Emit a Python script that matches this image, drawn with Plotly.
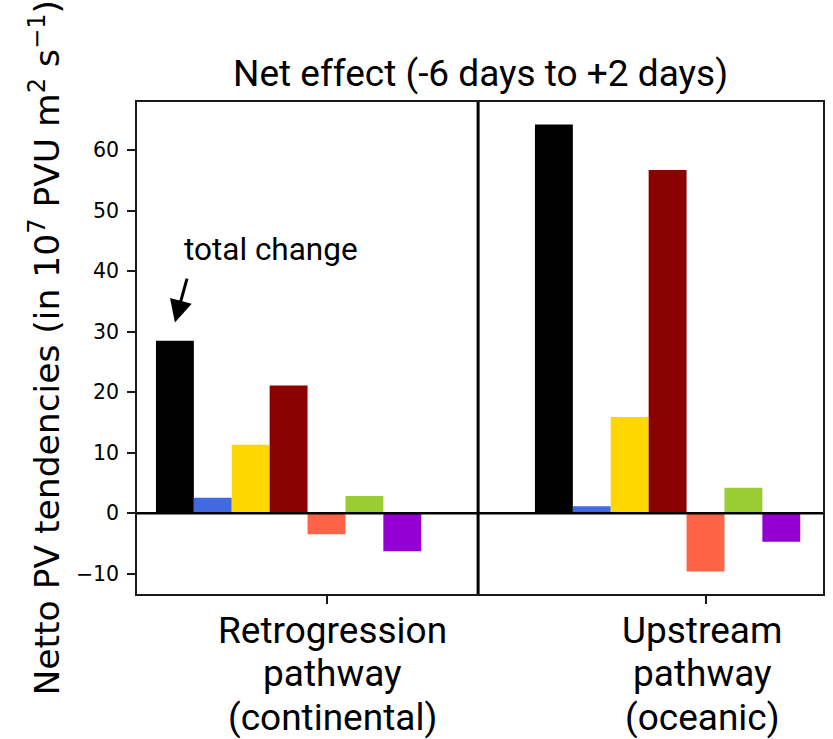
import plotly.graph_objects as go

# Net PV tendency contributions per pathway (10^7 PVU m^2 s^-1)
pathway_lines = [["Retrogression", "pathway", "(continental)"],
                 ["Upstream", "pathway", "(oceanic)"]]
bar_colors = ["black", "royalblue", "gold", "darkred", "tomato", "yellowgreen", "darkviolet"]
retrogression_values = [28.5, 2.56, 11.3, 21.1, -3.49, 2.84, -6.29]
upstream_values = [64.25, 1.14, 15.9, 56.7, -9.66, 4.21, -4.71]
y_tick_values = [-10, 0, 10, 20, 30, 40, 50, 60]
y_tick_labels = ["\u221210", "0", "10", "20", "30", "40", "50", "60"]

BAR_W = 0.1
pathway_pos = [0, 1]

fig = go.Figure()
for k, color in enumerate(bar_colors):
    off = (k - 4) * BAR_W
    fig.add_trace(go.Bar(
        x=[p + off for p in pathway_pos],
        y=[retrogression_values[k], upstream_values[k]],
        width=BAR_W,
        marker=dict(color=color, line=dict(width=0)),
        showlegend=False,
    ))

frame = "#1a1a1a"
fig.update_layout(
    width=833, height=739,
    margin=dict(l=137, r=10, t=102, b=145),
    plot_bgcolor="white", paper_bgcolor="white",
    barmode="overlay",
    showlegend=False,
    xaxis=dict(
        range=[-0.5, 1.31],
        tickvals=pathway_pos, ticktext=["", ""],
        ticks="outside", ticklen=8, tickwidth=1.5, tickcolor=frame,
        showline=True, linecolor=frame, linewidth=1.5, mirror=True,
        showgrid=False, zeroline=False, automargin=False,
    ),
    yaxis=dict(
        range=[-13.36, 67.95],
        tickvals=y_tick_values, ticktext=y_tick_labels,
        tickfont=dict(family="DejaVu Sans", size=20.5, color="black"),
        ticks="outside", ticklen=8, tickwidth=1.5, tickcolor=frame,
        ticklabelstandoff=4,
        showline=True, linecolor=frame, linewidth=1.5, mirror=True,
        showgrid=False, zeroline=False, automargin=False,
    ),
)

# zero line and panel separator
fig.add_shape(type="line", xref="paper", yref="y", x0=0, x1=1, y0=0, y1=0,
              line=dict(color="black", width=2.5))
fig.add_shape(type="line", xref="x", yref="paper", x0=0.4, x1=0.4, y0=0, y1=1,
              line=dict(color="black", width=3))

# category labels under each pathway, one line at a time
label_shift = [6, -3.5]
for p, lines in zip(pathway_pos, pathway_lines):
    for i, line in enumerate(lines):
        fig.add_annotation(text=line, xref="x", yref="paper", x=p, y=0,
                           xanchor="center", yanchor="middle",
                           xshift=label_shift[p], yshift=-(36 + 43.5 * i),
                           showarrow=False,
                           font=dict(family="Roboto", size=37, color="black"))

# panel title
fig.add_annotation(text="Net effect (-6 days to +2 days)", xref="paper", yref="paper",
                   x=(480 - 137) / 686, y=1.0, yanchor="middle", xanchor="center",
                   yshift=29, showarrow=False,
                   font=dict(family="Roboto", size=37, color="black"))

# y-axis label
fig.add_annotation(text="Netto PV tendencies (in 10<sup>7</sup> PVU m<sup>2</sup> s<sup>\u22121</sup>)",
                   xref="paper", yref="paper", x=(44.5 - 137) / 686, y=0.5,
                   xanchor="center", yanchor="middle", textangle=-90, showarrow=False,
                   font=dict(family="DejaVu Sans", size=34.5, color="black"))

# total change pointer
fig.add_annotation(text="total change", xref="x", yref="y", x=-0.1455, y=43.5,
                   xanchor="center", yanchor="middle", showarrow=False,
                   font=dict(family="Roboto", size=31.5, color="black"))
fig.add_annotation(text="", xref="x", yref="y", x=-0.4, y=31.5,
                   axref="x", ayref="y", ax=-0.367, ay=39.0,
                   showarrow=True, arrowhead=2, arrowsize=1.5, arrowwidth=3,
                   arrowcolor="black")

fig.write_html("out.html")
